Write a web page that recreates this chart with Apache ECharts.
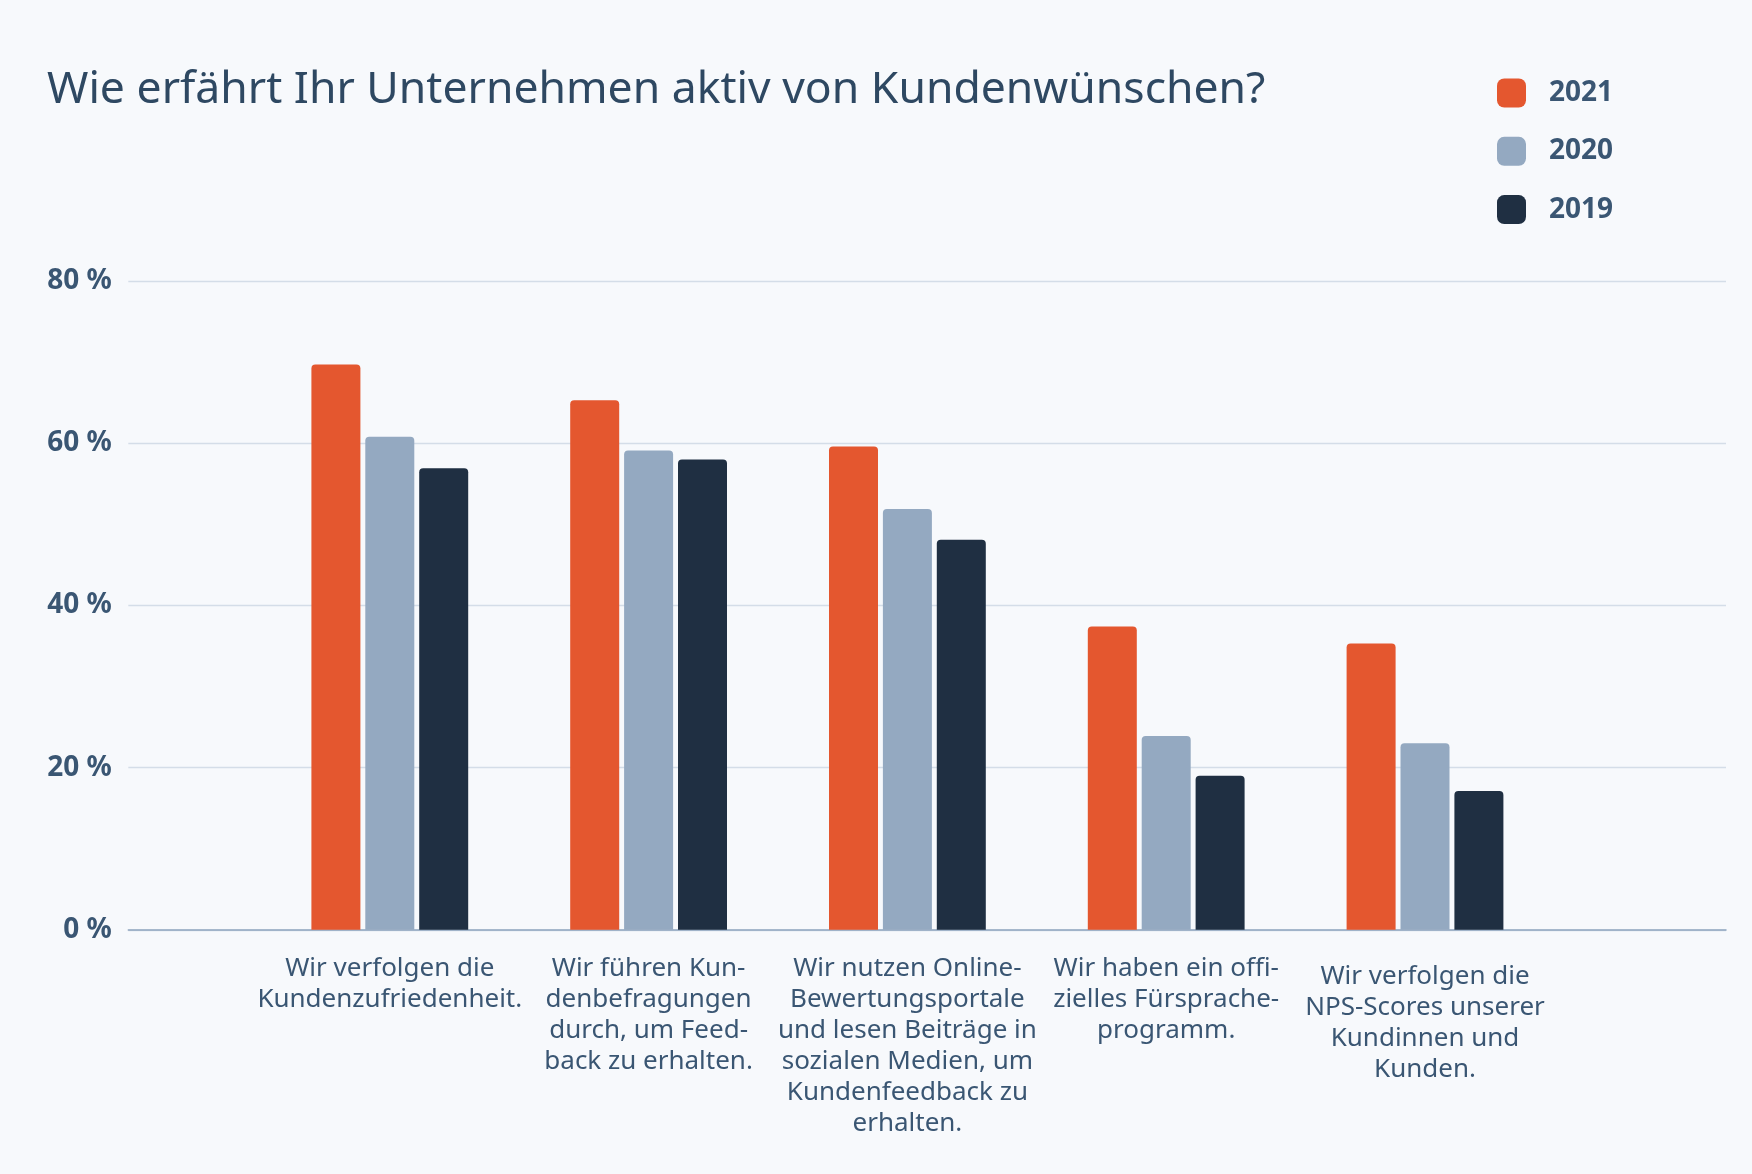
<!DOCTYPE html>
<html>
<head>
<meta charset="utf-8">
<title>Kundenwünsche</title>
<script src="https://cdn.jsdelivr.net/npm/echarts@6/dist/echarts.min.js"></script>
<style>
    html,body{margin:0;padding:0;background:#f7f9fc;}
    #main{width:1752px;height:1174px;}
</style>
</head>
<body>
<div id="main"></div>
<script>
var categories = [
    'Wir verfolgen die\nKundenzufriedenheit.',
    'Wir führen Kun-\ndenbefragungen\ndurch, um Feed-\nback zu erhalten.',
    'Wir nutzen Online-\nBewertungsportale\nund lesen Beiträge in\nsozialen Medien, um\nKundenfeedback zu\nerhalten.',
    'Wir haben ein offi-\nzielles Fürsprache-\nprogramm.',
    'Wir verfolgen die\nNPS-Scores unserer\nKundinnen und\nKunden.'
];
var years = ['2021', '2020', '2019'];
var values2021 = [69.7, 65.3, 59.6, 37.4, 35.3];
var values2020 = [60.8, 59.1, 51.9, 23.9, 23.0];
var values2019 = [56.9, 58.0, 48.1, 19.0, 17.1];
var yTicks = [0, 20, 40, 60, 80];

var textColor = '#3a5673';
var font = 'Noto Sans';

var myChart = echarts.init(document.getElementById('main'));

function barSeries(name, data, color){
    return {
        name: name,
        type: 'bar',
        xAxisIndex: 1,
        yAxisIndex: 1,
        data: data,
        barWidth: 49,
        barGap: '10%',
        itemStyle: {color: color, borderRadius: [4, 4, 0, 0]}
    };
}

// the last label sits a little lower in the original
var labelData = categories.map(function(c, i){
    if(i == categories.length - 1){
        return {value: c, textStyle: {padding: [8, 0, 0, 0]}};
    }
    return c;
});

myChart.setOption({
    backgroundColor: '#f7f9fc',
    animation: false,
    title: {
        text: 'Wie erfährt Ihr Unternehmen aktiv von Kundenwünschen?',
        left: 47,
        top: 67.5,
        padding: 0,
        textStyle: {fontFamily: font, fontSize: 44.5, fontWeight: 'normal', color: '#2e4862', lineHeight: 45}
    },
    legend: {
        data: years,
        orient: 'vertical',
        left: 1497,
        top: 78.5,
        padding: 0,
        itemWidth: 29,
        itemHeight: 29,
        itemGap: 29.3,
        icon: 'roundRect',
        textStyle: {fontFamily: font, fontSize: 28, fontWeight: 'bold', color: textColor, lineHeight: 29, padding: [0, 0, 0, 18]}
    },
    grid: [
        // full width grid: y labels + split lines + zero line
        {left: 128.3, right: 26, top: 281, bottom: 244.2},
        // narrower grid for the bar groups
        {left: 260.4, right: 197.6, top: 281, bottom: 244.2}
    ],
    xAxis: [{
        gridIndex: 0,
        type: 'category',
        data: [''],
        axisTick: {show: false},
        axisLabel: {show: false},
        axisLine: {lineStyle: {color: '#8fa5bf', width: 1.5}}
    },{
        gridIndex: 1,
        type: 'category',
        data: labelData,
        axisTick: {show: false},
        axisLine: {show: false},
        axisLabel: {
            interval: 0,
            margin: 23.5,
            fontFamily: font,
            fontSize: 26,
            lineHeight: 31,
            color: textColor,
            align: 'center'
        }
    }],
    yAxis: [{
        gridIndex: 0,
        type: 'value',
        min: yTicks[0],
        max: yTicks[yTicks.length - 1],
        interval: yTicks[1] - yTicks[0],
        axisLine: {show: false},
        axisTick: {show: false},
        axisLabel: {
            margin: 16.6,
            formatter: '{value} %',
            fontFamily: font,
            fontSize: 28,
            fontWeight: 'bold',
            color: textColor
        },
        splitLine: {lineStyle: {color: '#d4dde8', width: 1.3}}
    },{
        gridIndex: 1,
        type: 'value',
        min: yTicks[0],
        max: yTicks[yTicks.length - 1],
        show: false
    }],
    series: [
        barSeries('2021', values2021, '#e4572f'),
        barSeries('2020', values2020, '#94a9c1'),
        barSeries('2019', values2019, '#1f2f42')
    ]
});
</script>
</body>
</html>
